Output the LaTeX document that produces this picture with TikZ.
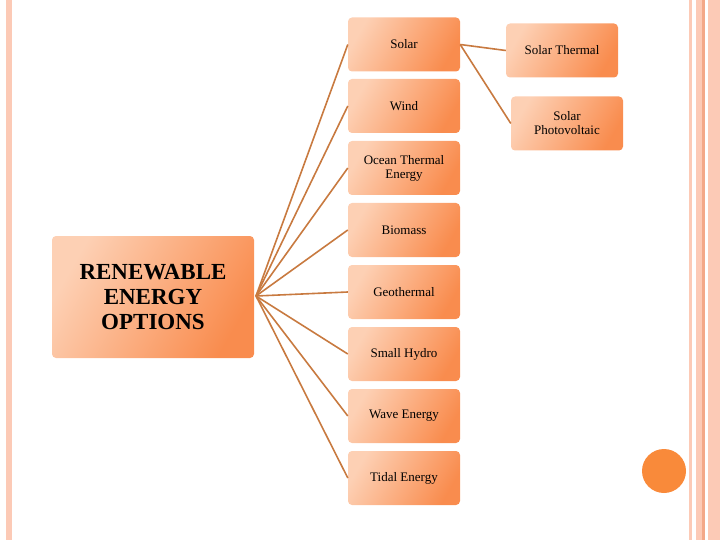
\documentclass[tikz,border=0pt]{standalone}
\usepackage{fontspec}
\setmainfont{Liberation Serif}
\definecolor{lt}{HTML}{FDD0B4}
\definecolor{dk}{HTML}{F98C4E}
\definecolor{ln}{HTML}{C87A40}
\definecolor{strip}{HTML}{FCCAB6}
\definecolor{stripd}{HTML}{F3A888}
\tikzset{
 box/.style={rounded corners=4pt,left color=lt,right color=dk,shading angle=60,minimum width=112pt,minimum height=54pt,align=center,font=\fontsize{13}{14}\selectfont,inner sep=2pt},
 conn/.style={draw=ln,line width=1.6pt}
}
\begin{document}
\begin{tikzpicture}[x=1pt,y=-1pt]
\useasboundingbox (0,0) rectangle (720,540);
\fill[strip] (6,0) rectangle (12,540);
\fill[strip] (689,0) rectangle (692,540);
\fill[strip] (696,0) rectangle (720,540);
\fill[stripd] (702,0) rectangle (705,540);
\fill[white] (705,0) rectangle (708,540);
\fill[color={rgb,255:red,249;green,138;blue,58}] (664,471) circle (22);
\node[box,minimum width=202pt,minimum height=122pt,font=\bfseries\fontsize{23}{25}\selectfont] (main) at (153,297) {RENEWABLE\\ENERGY\\OPTIONS};
\node[box] (solar) at (404,44.5) {Solar};
\node[box] (wind) at (404,106) {Wind};
\node[box] (ocean) at (404,168) {Ocean Thermal\\Energy};
\node[box] (bio) at (404,230) {Biomass};
\node[box] (geo) at (404,292) {Geothermal};
\node[box] (hydro) at (404,354) {Small Hydro};
\node[box] (wave) at (404,416) {Wave Energy};
\node[box] (tidal) at (404,478) {Tidal Energy};
\node[box] (st) at (562,50.5) {Solar Thermal};
\node[box] (pv) at (567,123.5) {Solar\\Photovoltaic};
\coordinate (hub) at (256,296);
\foreach \n in {solar,wind,ocean,bio,geo,hydro,wave,tidal} \draw[conn] (hub) -- (\n.west);
\draw[conn] (solar.east) -- (st.west);
\draw[conn] (solar.east) -- (pv.west);
\end{tikzpicture}
\end{document}
